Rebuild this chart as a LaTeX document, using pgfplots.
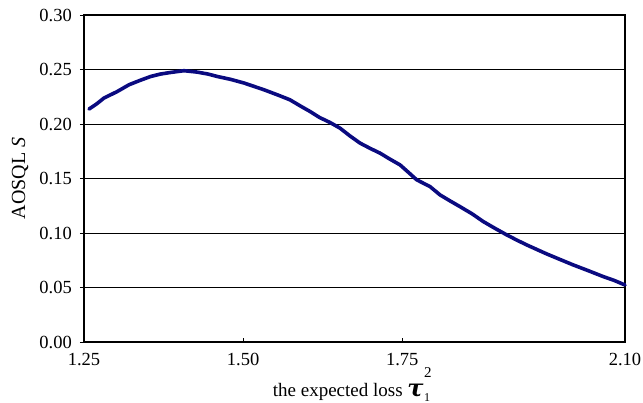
\documentclass[border=0pt]{standalone}
\usepackage{fontspec}
\setmainfont{Liberation Serif}
\newfontfamily\taufont{DejaVu Serif}
\usepackage{pgfplots}
\pgfplotsset{compat=1.18}
\definecolor{navyline}{RGB}{10,10,128}
\begin{document}
\begin{tikzpicture}
\useasboundingbox (-84bp,-61bp) rectangle (559bp,342bp);
\begin{axis}[
  at={(0,0)}, anchor=south west,
  scale only axis, width=541bp, height=327bp,
  xmin=1.25, xmax=2.10, ymin=0, ymax=0.30,
  xtick={1.25,1.50,1.75,2.10},
  xticklabels={1.25,1.50,1.75,2.10},
  ytick={0,0.05,0.10,0.15,0.20,0.25,0.30},
  yticklabels={0.00,0.05,0.10,0.15,0.20,0.25,0.30},
  /pgf/number format/assume math mode=true,
  xtick pos=bottom, ytick pos=left,
  x tick style={black, line width=0.8bp},
  y tick style={black, line width=0.8bp},
  xtick align=inside, ytick align=outside,
  major tick length=4bp,
  ymajorgrids,
  grid style={black, line width=0.7bp},
  axis line style={line width=2.4bp},
  xticklabel style={font=\fontsize{18.5bp}{21bp}\selectfont, anchor=base, inner sep=0pt, yshift=-23bp},
  yticklabel style={font=\fontsize{18.5bp}{21bp}\selectfont, anchor=east, inner sep=0pt, xshift=-8bp},
  xlabel={the expected loss {\taufont\fontsize{24bp}{24bp}\selectfont\bfseries\itshape τ}\kern0.5bp\rlap{\raisebox{19bp}{\fontsize{15bp}{15bp}\selectfont 2}}\raisebox{-5bp}{\fontsize{12bp}{12bp}\selectfont 1}},
  ylabel={AOSQL \textit{S}},
  xlabel style={font=\fontsize{19bp}{23bp}\selectfont, at={(axis description cs:0.5,-0.168)}, anchor=base, inner sep=0pt, xshift=-3bp},
  ylabel style={font=\fontsize{20bp}{24bp}\selectfont, at={(axis description cs:-0.118,0.5)}, anchor=center, inner sep=0pt},
  clip=false,
]
\addplot[navyline, line width=3.6bp, line join=round, line cap=round] coordinates {
(1.2579,0.2137) (1.2700,0.2185) (1.2814,0.2238) (1.3023,0.2298) (1.3207,0.2360)
(1.3380,0.2400) (1.3548,0.2436) (1.3700,0.2458) (1.3862,0.2473) (1.4071,0.2489)
(1.4280,0.2476) (1.4450,0.2458) (1.4594,0.2436) (1.4800,0.2410) (1.5014,0.2376)
(1.5328,0.2314) (1.5550,0.2265) (1.5736,0.2222) (1.5900,0.2165) (1.6051,0.2115)
(1.6200,0.2060) (1.6365,0.2014) (1.6522,0.1962) (1.6680,0.1890) (1.6836,0.1825)
(1.7000,0.1775) (1.7150,0.1733) (1.7300,0.1680) (1.7465,0.1625) (1.7600,0.1555)
(1.7727,0.1488) (1.7936,0.1426) (1.8093,0.1350) (1.8250,0.1295) (1.8407,0.1242)
(1.8600,0.1175) (1.8773,0.1105) (1.8950,0.1045) (1.9141,0.0983) (1.9300,0.0935)
(1.9455,0.0891) (1.9610,0.0850) (1.9770,0.0808) (1.9980,0.0757) (2.0187,0.0707)
(2.0420,0.0655) (2.0659,0.0600) (2.0830,0.0565) (2.1000,0.0523)
};
\end{axis}
\end{tikzpicture}
\end{document}
